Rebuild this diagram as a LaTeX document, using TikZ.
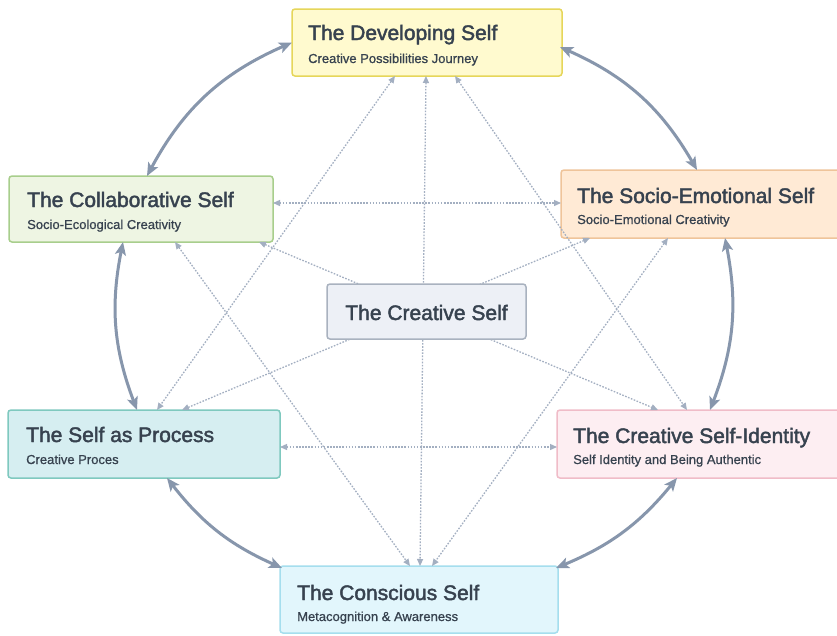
\documentclass[tikz,border=0pt]{standalone}
\usepackage{fontspec}
\setmainfont{Liberation Sans}
\newfontfamily\titlefont[FakeBold=2]{Liberation Sans}
\newfontfamily\subfont[FakeBold=0.8]{Liberation Sans}
\usetikzlibrary{arrows.meta,calc}
\definecolor{txt}{HTML}{37424F}
\definecolor{thickc}{HTML}{8796AC}
\definecolor{dotc}{HTML}{A3AFC1}
\definecolor{Dfill}{HTML}{FFFACF}\definecolor{Dline}{HTML}{E6D65A}
\definecolor{Cfill}{HTML}{EEF5E3}\definecolor{Cline}{HTML}{A8CE8C}
\definecolor{Sfill}{HTML}{FFEAD5}\definecolor{Sline}{HTML}{EFC49A}
\definecolor{Xfill}{HTML}{EDF0F6}\definecolor{Xline}{HTML}{A9B2BF}
\definecolor{Pfill}{HTML}{D6EEF1}\definecolor{Pline}{HTML}{7FC9BF}
\definecolor{Ifill}{HTML}{FDEEF2}\definecolor{Iline}{HTML}{F0BCC8}
\definecolor{Kfill}{HTML}{E2F6FC}\definecolor{Kline}{HTML}{A5DEEE}
\tikzset{
  box/.style={rectangle, rounded corners=3pt, line width=1.5pt, inner sep=0pt, outer sep=0pt, anchor=north west},
  ttl/.style={anchor=base west, inner sep=0pt, text=txt, font=\titlefont\fontsize{21}{25}\selectfont},
  sub/.style={anchor=base west, inner sep=0pt, text=txt, font=\subfont\fontsize{13}{15}\selectfont},
  bigarrow/.style={draw=thickc, line width=3pt, {Stealth[length=13pt,width=11pt,inset=3pt]}-{Stealth[length=13pt,width=11pt,inset=3pt]}},
  dotarrow/.style={draw=dotc, line width=1.3pt, dash pattern=on 1.6pt off 1.5pt, {Triangle[length=7pt,width=6pt]}-{Triangle[length=7pt,width=6pt]}}
}
\begin{document}
\begin{tikzpicture}[x=1pt,y=1pt]
\useasboundingbox (0,0) rectangle (837,-635);
\fill[white] (0,0) rectangle (837,-635);
\clip (0,0) rectangle (837,-635);
% outer boxes
\node[box, fill=Dfill, draw=Dline, minimum width=270pt, minimum height=67pt] (D) at (292,-9) {};
\node[box, fill=Cfill, draw=Cline, minimum width=264pt, minimum height=66pt] (C) at (9,-176) {};
\node[box, fill=Sfill, draw=Sline, minimum width=290pt, minimum height=68pt] (S) at (561,-170) {};
\node[box, fill=Pfill, draw=Pline, minimum width=272pt, minimum height=68pt] (P) at (8,-410) {};
\node[box, fill=Ifill, draw=Iline, minimum width=293pt, minimum height=68pt] (I) at (557,-410) {};
\node[box, fill=Kfill, draw=Kline, minimum width=278pt, minimum height=67pt] (K) at (280,-566) {};
% texts
\node[ttl] (Dt) at (308,-40) {The Developing Self};
\node[sub] (Ds) at (308,-63) {Creative Possibilities Journey};
\node[ttl] (Ct) at (27,-207) {The Collaborative Self};
\node[sub] (Cs) at (27,-229) {Socio-Ecological Creativity};
\node[ttl] (St) at (577,-203) {The Socio-Emotional Self};
\node[sub] (Ss) at (577,-224) {Socio-Emotional Creativity};
\node[ttl] (Pt) at (26,-442) {The Self as Process};
\node[sub] (Ps) at (26,-464) {Creative Proces};
\node[ttl] (It) at (573,-443) {The Creative Self-Identity};
\node[sub] (Is) at (573,-464) {Self Identity and Being Authentic};
\node[ttl] (Kt) at (297,-600) {The Conscious Self};
\node[sub] (Ks) at (297,-621) {Metacognition \& Awareness};
% dotted connectors
\draw[dotarrow] ($(C.north east)+(0,-27)$) -- ($(S.north west)+(0,-33)$);
\draw[dotarrow] ($(P.north east)+(0,-37)$) -- ($(I.north west)+(0,-37)$);
\draw[dotarrow] ($(D.south west)+(134,0)$) -- ($(K.north west)+(140,0)$);
\draw[dotarrow] ($(D.south west)+(103,0)$) -- ($(P.north west)+(149,0)$);
\draw[dotarrow] ($(D.south west)+(163,0)$) -- ($(I.north west)+(130,0)$);
\draw[dotarrow] ($(C.south west)+(166,0)$) -- ($(K.north west)+(130,0)$);
\draw[dotarrow] ($(S.south west)+(107,0)$) -- ($(K.north west)+(152,0)$);
\draw[dotarrow] ($(C.south west)+(250,0)$) -- ($(I.north west)+(101,0)$);
\draw[dotarrow] ($(S.south west)+(29,0)$) -- ($(P.north west)+(174,0)$);
% centre box
\node[box, fill=Xfill, draw=Xline, minimum width=199pt, minimum height=55pt] (X) at (327,-284) {};
\node[anchor=base, inner sep=0pt, text=txt, font=\titlefont\fontsize{21}{25}\selectfont] (Xt) at (426.5,-320) {The Creative Self};
% thick curved connectors
\draw[bigarrow] ($(C.north west)+(138,0)$) to[bend left=19] (D.west);
\draw[bigarrow] ($(D.north east)+(-2,-38)$) to[bend left=18] ($(S.north west)+(136,0)$);
\draw[bigarrow] ($(C.south west)+(114,0)$) to[bend right=16] ($(P.north west)+(129,0)$);
\draw[bigarrow] ($(S.south west)+(164,0)$) to[bend left=16] ($(I.north west)+(153,0)$);
\draw[bigarrow] ($(P.south west)+(159,0)$) to[bend right=14] ($(K.north west)+(2,-2)$);
\draw[bigarrow] ($(K.north east)+(-2,-2)$) to[bend right=14] ($(I.south west)+(120,0)$);
\end{tikzpicture}
\end{document}
